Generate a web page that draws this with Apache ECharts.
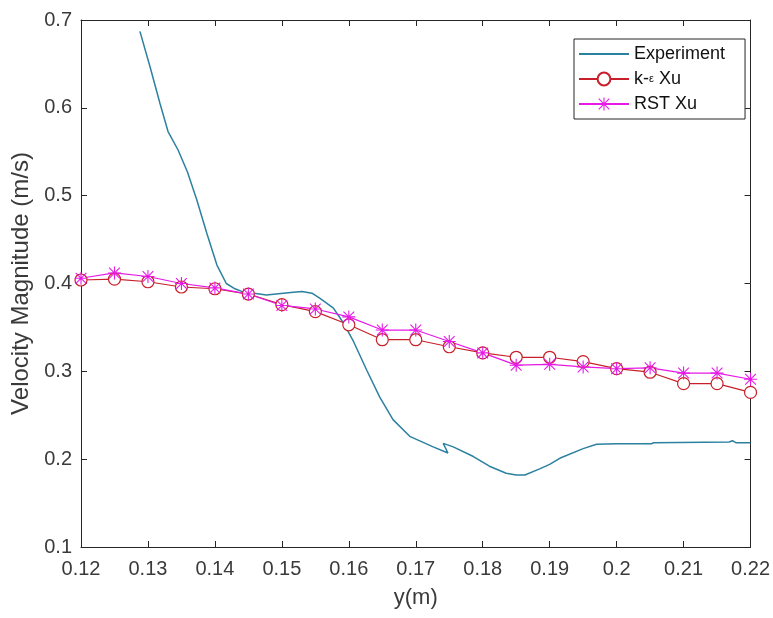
<!DOCTYPE html>
<html>
<head>
<meta charset="utf-8">
<script src="https://cdn.jsdelivr.net/npm/echarts@6/dist/echarts.min.js"></script>
<style>
  html, body { margin: 0; padding: 0; background: #fff; }
  #chart { width: 773px; height: 618px; }
</style>
</head>
<body>
<div id="chart"></div>
<script>
// Velocity profile along y: measured curve vs. two turbulence models
const seriesNames = ['Experiment', 'k-\u03b5 Xu', 'RST Xu'];

// Experiment: measured (y, |U|) pairs
const expY = [0.1288, 0.1303, 0.1318, 0.1330, 0.1345, 0.1359, 0.1373, 0.1388, 0.1403, 0.1417,
              0.1430, 0.1440, 0.1477, 0.1517, 0.1530, 0.1545, 0.1557, 0.1577, 0.1592, 0.1607,
              0.1627, 0.1646, 0.1666, 0.1691, 0.1726, 0.1748, 0.1741, 0.1756, 0.1786, 0.1810,
              0.1835, 0.1850, 0.1863, 0.1885, 0.1900, 0.1915, 0.1950, 0.1970, 0.2000, 0.2052,
              0.2055, 0.2168, 0.2173, 0.2178, 0.2200];
const expU = [0.687, 0.647, 0.605, 0.573, 0.552, 0.527, 0.495, 0.457, 0.421, 0.400,
              0.394, 0.391, 0.387, 0.390, 0.391, 0.389, 0.383, 0.372, 0.355, 0.334,
              0.301, 0.271, 0.245, 0.226, 0.214, 0.207, 0.218, 0.214, 0.203, 0.192,
              0.184, 0.182, 0.182, 0.189, 0.194, 0.201, 0.212, 0.217, 0.2175, 0.2175,
              0.2187, 0.2195, 0.221, 0.2188, 0.2188];

// Model results at the sampling stations
const modelY = [0.120, 0.125, 0.130, 0.135, 0.140, 0.145, 0.150, 0.155, 0.160, 0.165, 0.170,
                0.175, 0.180, 0.185, 0.190, 0.195, 0.200, 0.205, 0.210, 0.215, 0.220];
const keU  = [0.404, 0.405, 0.402, 0.396, 0.394, 0.388, 0.376, 0.368, 0.353, 0.336, 0.336,
              0.328, 0.321, 0.316, 0.316, 0.311, 0.303, 0.299, 0.286, 0.286, 0.276];
const rstU = [0.406, 0.412, 0.408, 0.400, 0.395, 0.388, 0.375, 0.371, 0.362, 0.347, 0.347,
              0.334, 0.321, 0.307, 0.308, 0.305, 0.303, 0.304, 0.298, 0.298, 0.291];

const pair = (xs, ys) => xs.map((x, i) => [x, ys[i]]);

// asterisk marker built from four thin bars
const asterisk = 'path://M11 0H13V24H11Z M0 11H24V13H0Z M1.4 2.8L2.8 1.4L22.6 21.2L21.2 22.6Z M21.2 1.4L22.6 2.8L2.8 22.6L1.4 21.2Z';

const axisColor = '#262626';
const labelColor = '#3a3a3a';
const font = 'Liberation Sans, Arial, Helvetica, sans-serif';

const xCommon = {
  type: 'value', min: 0.12, max: 0.22, interval: 0.01,
  axisLine: { show: true, onZero: false, lineStyle: { color: axisColor, width: 1 } },
  axisTick: { show: true, inside: true, length: 6, lineStyle: { color: axisColor } },
  splitLine: { show: false }
};
const yCommon = {
  type: 'value', min: 0.1, max: 0.7, interval: 0.1,
  axisLine: { show: true, onZero: false, lineStyle: { color: axisColor, width: 1 } },
  axisTick: { show: true, inside: true, length: 6, lineStyle: { color: axisColor } },
  splitLine: { show: false }
};

const chart = echarts.init(document.getElementById('chart'), null, { renderer: 'canvas' });
chart.setOption({
  animation: false,
  backgroundColor: '#ffffff',
  textStyle: { fontFamily: font },
  grid: { left: 81, right: 22, top: 20, bottom: 71, containLabel: false },
  xAxis: [
    Object.assign({}, xCommon, {
      position: 'bottom',
      name: 'y(m)', nameLocation: 'middle', nameGap: 40,
      nameTextStyle: { fontSize: 22, color: labelColor, fontFamily: font },
      axisLabel: { fontSize: 20, color: labelColor, margin: 12, fontFamily: font }
    }),
    Object.assign({}, xCommon, { position: 'top', axisLabel: { show: false } })
  ],
  yAxis: [
    Object.assign({}, yCommon, {
      position: 'left',
      name: 'Velocity Magnitude (m/s)', nameLocation: 'middle', nameGap: 47,
      nameTextStyle: { fontSize: 24, color: labelColor, fontFamily: font },
      axisLabel: { fontSize: 20, color: labelColor, margin: 9, fontFamily: font }
    }),
    Object.assign({}, yCommon, { position: 'right', axisLabel: { show: false } })
  ],
  legend: {
    data: [
      { name: seriesNames[0], itemStyle: { opacity: 0 } },
      { name: seriesNames[1] },
      { name: seriesNames[2] }
    ],
    orient: 'vertical',
    left: 574, top: 39,
    backgroundColor: '#fff',
    borderColor: axisColor, borderWidth: 1,
    padding: [6, 20, 6, 4],
    itemGap: 7,
    itemWidth: 50, itemHeight: 16,
    formatter: name => name === seriesNames[1] ? '{a|k-}{e|\u03b5}{a| Xu}' : name,
    textStyle: {
      fontSize: 18, color: '#111', fontFamily: font,
      rich: {
        a: { fontSize: 18, color: '#111', fontFamily: font },
        e: { fontSize: 11, color: '#111', fontFamily: font, verticalAlign: 'middle' }
      }
    }
  },
  series: [
    {
      name: seriesNames[0], type: 'line', data: pair(expY, expU),
      showSymbol: false, symbol: 'none',
      lineStyle: { color: '#2c80a0', width: 1.5 },
      itemStyle: { color: '#2c80a0' }
    },
    {
      name: seriesNames[1], type: 'line', data: pair(modelY, keU),
      symbol: 'circle', symbolSize: 12,
      lineStyle: { color: '#c8202a', width: 1.2 },
      itemStyle: { color: '#ffffff', borderColor: '#c8202a', borderWidth: 1.2 }
    },
    {
      name: seriesNames[2], type: 'line', data: pair(modelY, rstU),
      symbol: asterisk, symbolSize: 13,
      lineStyle: { color: '#e619e6', width: 1.2 },
      itemStyle: { color: '#e619e6' }
    }
  ]
});
</script>
</body>
</html>
